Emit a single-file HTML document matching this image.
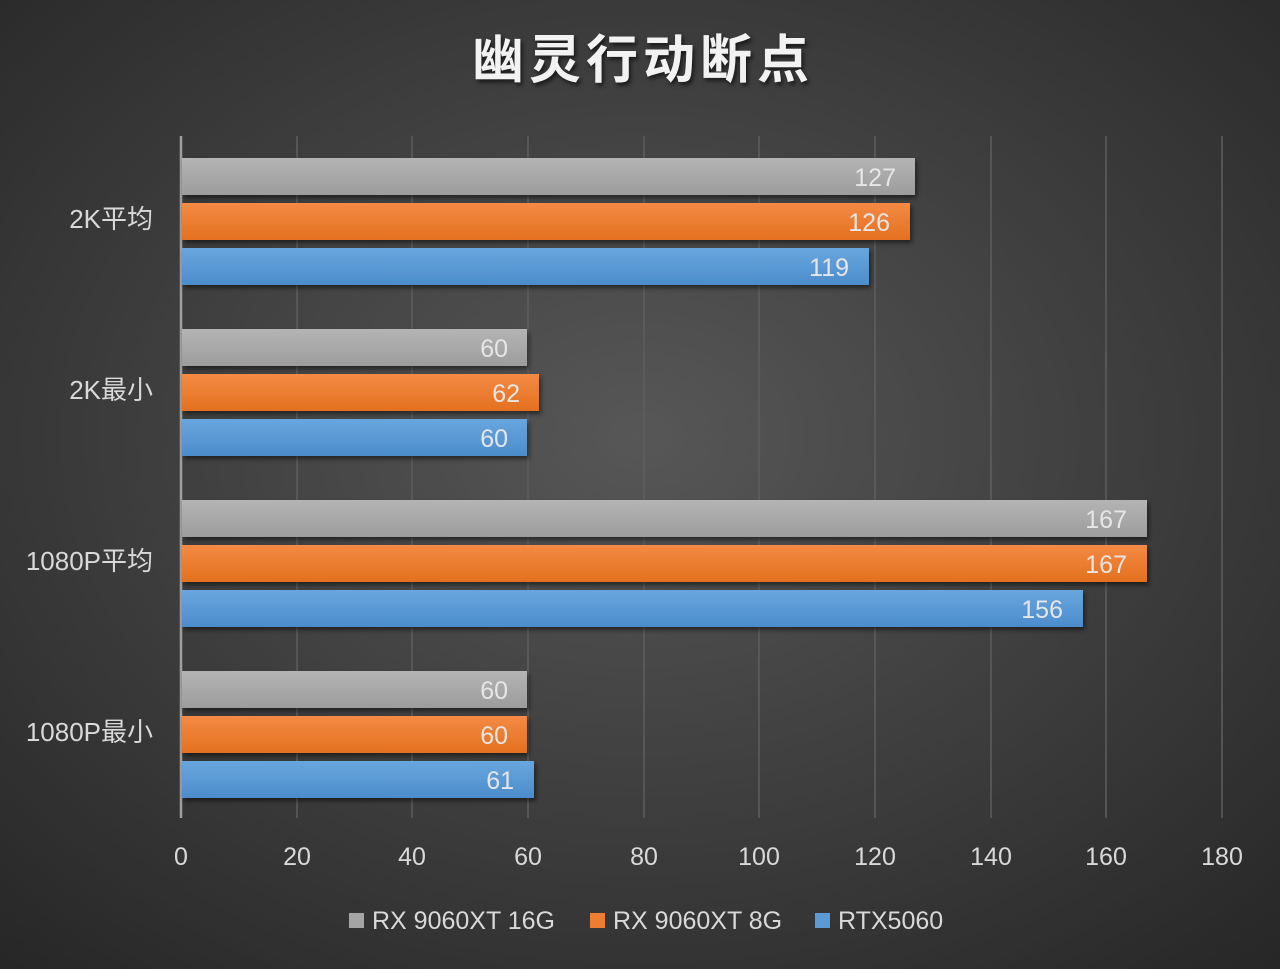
<!DOCTYPE html>
<html><head><meta charset="utf-8"><style>
html,body{margin:0;padding:0;background:#333;}
svg{display:block}
text{font-family:"Liberation Sans","Noto Sans CJK SC",sans-serif;}
</style></head><body>
<svg width="1280" height="969" viewBox="0 0 1280 969" xmlns="http://www.w3.org/2000/svg">
<defs>
<radialGradient id="bg" cx="50%" cy="45%" r="75%">
<stop offset="0" stop-color="#575757"/><stop offset="1" stop-color="#262626"/>
</radialGradient>
<linearGradient id="g" x1="0" y1="0" x2="0" y2="1"><stop offset="0" stop-color="#b4b4b4"/><stop offset="1" stop-color="#9c9c9c"/></linearGradient>
<linearGradient id="o" x1="0" y1="0" x2="0" y2="1"><stop offset="0" stop-color="#f48a44"/><stop offset="1" stop-color="#e3701f"/></linearGradient>
<linearGradient id="b" x1="0" y1="0" x2="0" y2="1"><stop offset="0" stop-color="#68a6de"/><stop offset="1" stop-color="#4c8ccb"/></linearGradient>
<filter id="sh" x="-5%" y="-20%" width="110%" height="160%"><feDropShadow dx="2" dy="3" stdDeviation="2.5" flood-color="#000" flood-opacity="0.5"/></filter>
</defs>
<rect width="1280" height="969" fill="url(#bg)"/>
<text x="643" y="78" text-anchor="middle" font-size="52" font-weight="bold" letter-spacing="5" fill="#f2f2f2" style="filter:drop-shadow(2px 3px 2px rgba(0,0,0,.6))">幽灵行动断点</text>
<g stroke="#5e5e5e" stroke-width="1.5">
<line x1="297" y1="136" x2="297" y2="818"/><line x1="412" y1="136" x2="412" y2="818"/><line x1="528" y1="136" x2="528" y2="818"/><line x1="644" y1="136" x2="644" y2="818"/><line x1="759" y1="136" x2="759" y2="818"/><line x1="875" y1="136" x2="875" y2="818"/><line x1="991" y1="136" x2="991" y2="818"/><line x1="1106" y1="136" x2="1106" y2="818"/><line x1="1222" y1="136" x2="1222" y2="818"/>
</g>
<line x1="181" y1="136" x2="181" y2="818" stroke="#a0a0a0" stroke-width="2.5"/>
<g filter="url(#sh)">
<rect x="182" y="158" width="733" height="37" fill="url(#g)"/>
<rect x="182" y="203" width="728" height="37" fill="url(#o)"/>
<rect x="182" y="248" width="687" height="37" fill="url(#b)"/>
<rect x="182" y="329" width="345" height="37" fill="url(#g)"/>
<rect x="182" y="374" width="357" height="37" fill="url(#o)"/>
<rect x="182" y="419" width="345" height="37" fill="url(#b)"/>
<rect x="182" y="500" width="965" height="37" fill="url(#g)"/>
<rect x="182" y="545" width="965" height="37" fill="url(#o)"/>
<rect x="182" y="590" width="901" height="37" fill="url(#b)"/>
<rect x="182" y="671" width="345" height="37" fill="url(#g)"/>
<rect x="182" y="716" width="345" height="37" fill="url(#o)"/>
<rect x="182" y="761" width="352" height="37" fill="url(#b)"/>
</g>
<g font-size="25" fill="#e6e6e6" text-anchor="end">
<text x="896" y="186">127</text><text x="890" y="231">126</text><text x="849" y="276">119</text>
<text x="508" y="357">60</text><text x="520" y="402">62</text><text x="508" y="447">60</text>
<text x="1127" y="528">167</text><text x="1127" y="573">167</text><text x="1063" y="618">156</text>
<text x="508" y="699">60</text><text x="508" y="744">60</text><text x="514" y="789">61</text>
</g>
<g font-size="26" fill="#d9d9d9" text-anchor="end">
<text x="153" y="228">2K平均</text><text x="153" y="399">2K最小</text><text x="153" y="570">1080P平均</text><text x="153" y="741">1080P最小</text>
</g>
<g font-size="25" fill="#d9d9d9" text-anchor="middle">
<text x="181" y="865">0</text><text x="297" y="865">20</text><text x="412" y="865">40</text><text x="528" y="865">60</text><text x="644" y="865">80</text><text x="759" y="865">100</text><text x="875" y="865">120</text><text x="991" y="865">140</text><text x="1106" y="865">160</text><text x="1222" y="865">180</text>
</g>
<g font-size="25" fill="#d9d9d9">
<rect x="349" y="913" width="15" height="15" fill="#a5a5a5"/><text x="372" y="929">RX 9060XT 16G</text>
<rect x="590" y="913" width="15" height="15" fill="#ed7d31"/><text x="613" y="929">RX 9060XT 8G</text>
<rect x="815" y="913" width="15" height="15" fill="#5b9bd5"/><text x="838" y="929">RTX5060</text>
</g>
</svg>
</body></html>
